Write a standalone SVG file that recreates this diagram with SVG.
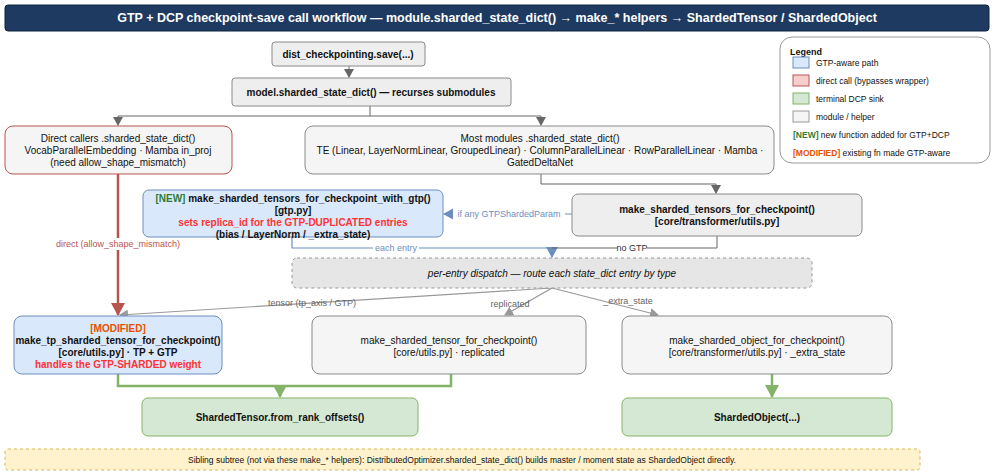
<svg xmlns="http://www.w3.org/2000/svg" width="994" height="473" viewBox="0 0 994 473">
<style>
text{font-family:"Liberation Sans",Arial,sans-serif;font-size:10px;fill:#111;text-anchor:middle}
.b{font-weight:bold}
.gray{fill:#f5f5f5;stroke:#8a8a8a;stroke-width:1}
.blue{fill:#dae8fc;stroke:#6c8ebf;stroke-width:1}
.green{fill:#d5e8d4;stroke:#82b366;stroke-width:1}
.red{fill:#f5f5f5;stroke:#b85450;stroke-width:1}
.c{fill:none;stroke:#666;stroke-width:1}
.cb{fill:none;stroke:#6c8ebf;stroke-width:1.2}
.cg{fill:none;stroke:#999;stroke-width:1.2}
.cgr{fill:none;stroke:#82b366;stroke-width:2.5}
.lbl{font-size:9px;fill:#666}
</style>
<defs>
<marker id="ag" markerWidth="10" markerHeight="10" refX="8" refY="5" orient="auto" markerUnits="userSpaceOnUse"><path d="M0,0L9,5L0,10z" fill="#666"/></marker>
<marker id="al" markerWidth="10" markerHeight="10" refX="8" refY="5" orient="auto" markerUnits="userSpaceOnUse"><path d="M0,0L9,5L0,10z" fill="#999"/></marker>
<marker id="ab" markerWidth="12" markerHeight="12" refX="10" refY="6" orient="auto" markerUnits="userSpaceOnUse"><path d="M0,0L11,6L0,12z" fill="#6c8ebf"/></marker>
<marker id="ar" markerWidth="14" markerHeight="14" refX="12" refY="7" orient="auto" markerUnits="userSpaceOnUse"><path d="M0,0L13,7L0,14z" fill="#b85450"/></marker>
<marker id="agr" markerWidth="14" markerHeight="14" refX="12" refY="7" orient="auto" markerUnits="userSpaceOnUse"><path d="M0,0L13,7L0,14z" fill="#82b366"/></marker>
</defs>
<g id="title"><rect x="5" y="5" width="984" height="26" rx="3" fill="#1f3a60" stroke="#0f2440"/><text x="497" y="22" class="b" style="fill:#fff;font-size:12.5px">GTP + DCP checkpoint-save call workflow — module.sharded_state_dict() → make_* helpers → ShardedTensor / ShardedObject</text></g>
<g id="connectors">
<path class="c" d="M349,66V77" marker-end="url(#ag)"/>
<path class="c" d="M370,106V116H118V125" marker-end="url(#ag)"/>
<path class="c" d="M370,116H541V125" marker-end="url(#ag)"/>
<path class="c" d="M541,174V184H716V193" marker-end="url(#ag)"/>
<path class="cb" d="M572,214H444" marker-end="url(#ab)"/>
<rect x="453" y="208" width="112" height="12" fill="#fff"/>
<text x="509" y="217" style="font-size:9px;fill:#6c8ebf">if any GTPShardedParam</text>
<path class="cb" d="M292,237V248H552V257" marker-end="url(#ab)"/>
<rect x="373" y="242" width="46" height="12" fill="#fff"/>
<text x="396" y="251" style="font-size:9px;fill:#6c8ebf">each entry</text>
<path class="c" d="M717,236V248H552"/>
<rect x="617" y="242" width="30" height="12" fill="#fff"/>
<text x="632" y="251" style="font-size:9px;fill:#333">no GTP</text>
<path class="cg" d="M552,288L120,315" marker-end="url(#al)"/>
<text x="312" y="306" class="lbl">tensor (tp_axis / GTP)</text>
<path class="cg" d="M552,288L505,315" marker-end="url(#al)"/>
<text x="510" y="307" class="lbl">replicated</text>
<path class="cg" d="M552,288L658,315" marker-end="url(#al)"/>
<text x="628" y="304" class="lbl">_extra_state</text>
<path d="M118,174V315" fill="none" stroke="#b85450" stroke-width="2.5" marker-end="url(#ar)"/>
<rect x="55" y="238" width="126" height="12" fill="#fff"/>
<text x="118" y="247" style="font-size:9px;fill:#b85450">direct (allow_shape_mismatch)</text>
<path class="cgr" d="M118,374V386H451V374"/>
<path class="cgr" d="M280,386V397" marker-end="url(#agr)"/>
<path class="cgr" d="M772,374V397" marker-end="url(#agr)"/>
</g>
<g id="save"><rect x="272" y="42" width="153" height="24" rx="3" class="gray" style="fill:#eeeeee"/><text x="348" y="58" class="b">dist_checkpointing.save(...)</text></g>
<g id="model"><rect x="232" y="78" width="279" height="28" rx="3" class="gray" style="fill:#eeeeee"/><text x="371" y="96" class="b">model.sharded_state_dict() — recurses submodules</text></g>
<g id="direct"><rect x="5" y="126" width="227" height="48" rx="8" class="red"/><text x="118" y="142">Direct callers .sharded_state_dict()</text><text x="118" y="154">VocabParallelEmbedding · Mamba in_proj</text><text x="118" y="166">(need allow_shape_mismatch)</text></g>
<g id="most"><rect x="305" y="126" width="469" height="48" rx="8" class="gray"/><text x="540" y="142">Most modules .sharded_state_dict()</text><text x="540" y="154">TE (Linear, LayerNormLinear, GroupedLinear) · ColumnParallelLinear · RowParallelLinear · Mamba ·</text><text x="540" y="166">GatedDeltaNet</text></g>
<g id="legend"><rect x="780" y="37" width="210" height="126" rx="12" fill="#fff" stroke="#999"/>
<text x="790" y="55" class="b" style="text-anchor:start;font-size:9px">Legend</text>
<rect x="793" y="57" width="16" height="11" fill="#dae8fc" stroke="#6c8ebf"/><text x="816" y="66" style="text-anchor:start;font-size:8.5px">GTP-aware path</text>
<rect x="793" y="75" width="16" height="11" fill="#f8cecc" stroke="#b85450"/><text x="816" y="84" style="text-anchor:start;font-size:8.5px">direct call (bypasses wrapper)</text>
<rect x="793" y="93" width="16" height="11" fill="#d5e8d4" stroke="#82b366"/><text x="816" y="102" style="text-anchor:start;font-size:8.5px">terminal DCP sink</text>
<rect x="793" y="111" width="16" height="11" fill="#f5f5f5" stroke="#999"/><text x="816" y="120" style="text-anchor:start;font-size:8.5px">module / helper</text>
<text x="793" y="138" style="text-anchor:start;font-size:8.5px"><tspan class="b" style="fill:#2e7d32">[NEW]</tspan> new function added for GTP+DCP</text>
<text x="793" y="156" style="text-anchor:start;font-size:8.5px"><tspan class="b" style="fill:#e65100">[MODIFIED]</tspan> existing fn made GTP-aware</text></g>
<g id="newfn"><rect x="143" y="190" width="300" height="47" rx="6" class="blue"/><text x="293" y="202" class="b"><tspan style="fill:#2e7d32">[NEW]</tspan> make_sharded_tensors_for_checkpoint_with_gtp()</text><text x="293" y="214" class="b">[gtp.py]</text><text x="293" y="226" class="b" style="fill:#ff3333">sets replica_id for the GTP-DUPLICATED entries</text><text x="293" y="238" class="b">(bias / LayerNorm / _extra_state)</text></g>
<g id="mst"><rect x="572" y="194" width="290" height="42" rx="6" class="gray" style="fill:#eeeeee"/><text x="717" y="213" class="b">make_sharded_tensors_for_checkpoint()</text><text x="717" y="225" class="b">[core/transformer/utils.py]</text></g>
<g id="dispatch"><rect x="292" y="258" width="520" height="30" rx="5" fill="#e6e6e6" stroke="#999" stroke-dasharray="3,3"/><text x="552" y="277" style="font-style:italic">per-entry dispatch — route each state_dict entry by type</text></g>
<g id="tp"><rect x="14" y="316" width="208" height="58" rx="8" class="blue"/><text x="118" y="332" class="b" style="fill:#e65100">[MODIFIED]</text><text x="118" y="344" class="b">make_tp_sharded_tensor_for_checkpoint()</text><text x="118" y="356" class="b">[core/utils.py] · TP + GTP</text><text x="118" y="368" class="b" style="fill:#ff3333">handles the GTP-SHARDED weight</text></g>
<g id="repl"><rect x="312" y="316" width="274" height="58" rx="8" class="gray"/><text x="449" y="344">make_sharded_tensor_for_checkpoint()</text><text x="449" y="356">[core/utils.py] · replicated</text></g>
<g id="obj"><rect x="622" y="316" width="270" height="58" rx="8" class="gray"/><text x="757" y="344">make_sharded_object_for_checkpoint()</text><text x="757" y="356">[core/transformer/utils.py] · _extra_state</text></g>
<g id="st"><rect x="142" y="398" width="276" height="38" rx="6" class="green"/><text x="280" y="421" class="b">ShardedTensor.from_rank_offsets()</text></g>
<g id="so"><rect x="622" y="398" width="270" height="38" rx="6" class="green"/><text x="757" y="421" class="b">ShardedObject(...)</text></g>
<g id="footer"><rect x="5" y="449" width="915" height="21" rx="3" fill="#fff2cc" stroke="#d6b656" stroke-dasharray="3,3"/><text x="462" y="463" style="font-size:8.5px">Sibling subtree (not via these make_* helpers): DistributedOptimizer.sharded_state_dict() builds master / moment state as ShardedObject directly.</text></g>
</svg>
